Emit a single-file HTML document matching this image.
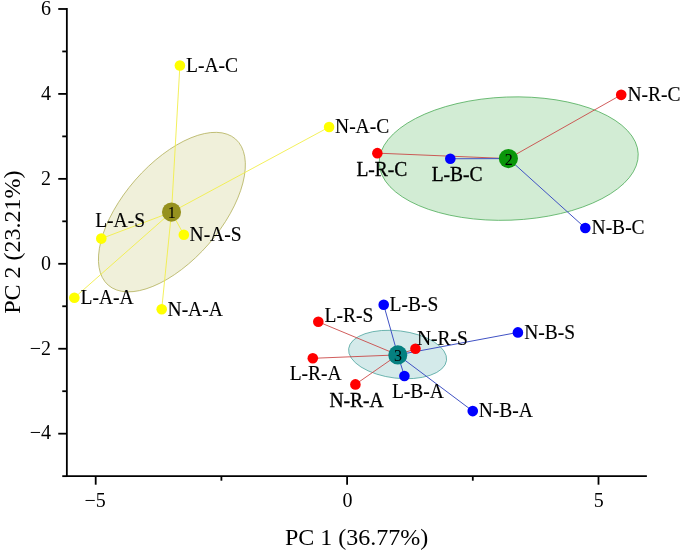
<!DOCTYPE html>
<html><head><meta charset="utf-8"><title>PCA</title>
<style>
html,body{margin:0;padding:0;background:#fff;}
body{width:685px;height:552px;overflow:hidden;}
svg{display:block;}
text{font-family:"Liberation Serif","Times New Roman",serif;fill:#000;}
.pl{font-size:20px;}
.tk{font-size:20px;}
.ax{font-size:24px;}
.cn{font-size:16px;fill:#000;}
</style></head><body>
<svg width="685" height="552" viewBox="0 0 685 552">
<rect width="685" height="552" fill="#fff"/>
<ellipse cx="171.9" cy="212.1" rx="96.9" ry="48.7" transform="rotate(-48.95 171.9 212.1)" fill="#f0f0da" stroke="#aeab50" stroke-width="0.7"/>
<ellipse cx="508.7" cy="158.6" rx="129.6" ry="61.6" transform="rotate(-2.15 508.7 158.6)" fill="#d2ecd4" stroke="#45a850" stroke-width="0.75"/>
<ellipse cx="397.6" cy="354.5" rx="49.3" ry="23.7" transform="rotate(6.82 397.6 354.5)" fill="#d4eaea" stroke="#4aa39c" stroke-width="0.75"/>
<line x1="179.9" y1="65.5" x2="171.5" y2="212.1" stroke="#f2ee4a" stroke-width="0.9"/>
<line x1="329.1" y1="127.05" x2="171.5" y2="212.1" stroke="#f2ee4a" stroke-width="0.9"/>
<line x1="101.3" y1="238.6" x2="171.5" y2="212.1" stroke="#f2ee4a" stroke-width="0.9"/>
<line x1="183.85" y1="234.75" x2="171.5" y2="212.1" stroke="#f2ee4a" stroke-width="0.9"/>
<line x1="74.35" y1="297.75" x2="171.5" y2="212.1" stroke="#f2ee4a" stroke-width="0.9"/>
<line x1="161.7" y1="309.3" x2="171.5" y2="212.1" stroke="#f2ee4a" stroke-width="0.9"/>
<line x1="377.35" y1="153.15" x2="508.4" y2="158.6" stroke="#c9403e" stroke-width="0.85"/>
<line x1="621.2" y1="94.85" x2="508.4" y2="158.6" stroke="#c9403e" stroke-width="0.85"/>
<line x1="450.3" y1="158.75" x2="508.4" y2="158.6" stroke="#4052c4" stroke-width="1"/>
<line x1="585.3" y1="228.0" x2="508.4" y2="158.6" stroke="#4052c4" stroke-width="1"/>
<line x1="318.3" y1="321.8" x2="397.8" y2="354.9" stroke="#c9403e" stroke-width="0.85"/>
<line x1="312.8" y1="358.3" x2="397.8" y2="354.9" stroke="#c9403e" stroke-width="0.85"/>
<line x1="355.4" y1="384.4" x2="397.8" y2="354.9" stroke="#c9403e" stroke-width="0.85"/>
<line x1="415.45" y1="348.8" x2="397.8" y2="354.9" stroke="#c9403e" stroke-width="0.85"/>
<line x1="383.7" y1="304.8" x2="397.8" y2="354.9" stroke="#4052c4" stroke-width="1"/>
<line x1="404.4" y1="375.95" x2="397.8" y2="354.9" stroke="#4052c4" stroke-width="1"/>
<line x1="517.9" y1="332.4" x2="397.8" y2="354.9" stroke="#4052c4" stroke-width="1"/>
<line x1="472.75" y1="411.1" x2="397.8" y2="354.9" stroke="#4052c4" stroke-width="1"/>
<g stroke="#000" stroke-width="1.8" fill="none">
<path d="M66.85 8.049999999999999V477.0"/>
<path d="M65.94999999999999 476.1H646.9"/>
<path d="M62.24999999999999 476.15H66.85"/>
<path d="M58.24999999999999 433.68H66.85"/>
<path d="M62.24999999999999 391.21H66.85"/>
<path d="M58.24999999999999 348.74H66.85"/>
<path d="M62.24999999999999 306.27H66.85"/>
<path d="M58.24999999999999 263.80H66.85"/>
<path d="M62.24999999999999 221.33H66.85"/>
<path d="M58.24999999999999 178.86H66.85"/>
<path d="M62.24999999999999 136.39H66.85"/>
<path d="M58.24999999999999 93.92H66.85"/>
<path d="M62.24999999999999 51.45H66.85"/>
<path d="M58.24999999999999 8.98H66.85"/>
<path d="M95.70 476.1V484.70000000000005"/>
<path d="M221.40 476.1V480.70000000000005"/>
<path d="M347.10 476.1V484.70000000000005"/>
<path d="M472.80 476.1V480.70000000000005"/>
<path d="M598.50 476.1V484.70000000000005"/>
</g>
<text class="tk" x="51.1" y="14.78" text-anchor="end">6</text>
<text class="tk" x="51.1" y="99.72" text-anchor="end">4</text>
<text class="tk" x="51.1" y="184.66" text-anchor="end">2</text>
<text class="tk" x="51.1" y="269.60" text-anchor="end">0</text>
<text class="tk" x="51.1" y="354.54" text-anchor="end">−2</text>
<text class="tk" x="51.1" y="439.48" text-anchor="end">−4</text>
<text class="tk" x="95.20" y="507" text-anchor="middle">−5</text>
<text class="tk" x="347.40" y="507" text-anchor="middle">0</text>
<text class="tk" x="598.80" y="507" text-anchor="middle">5</text>
<text class="ax" x="356.7" y="544.7" text-anchor="middle">PC 1 (36.77%)</text>
<text class="ax" transform="translate(19.6 242.2) rotate(-90)" text-anchor="middle">PC 2 (23.21%)</text>
<circle cx="179.9" cy="65.5" r="5.3" fill="#ffff00"/>
<circle cx="329.1" cy="127.05" r="5.3" fill="#ffff00"/>
<circle cx="101.3" cy="238.6" r="5.3" fill="#ffff00"/>
<circle cx="183.85" cy="234.75" r="5.3" fill="#ffff00"/>
<circle cx="74.35" cy="297.75" r="5.3" fill="#ffff00"/>
<circle cx="161.7" cy="309.3" r="5.3" fill="#ffff00"/>
<circle cx="377.35" cy="153.15" r="5.3" fill="#ff0000"/>
<circle cx="621.2" cy="94.85" r="5.3" fill="#ff0000"/>
<circle cx="450.3" cy="158.75" r="5.3" fill="#0000ff"/>
<circle cx="585.3" cy="228.0" r="5.3" fill="#0000ff"/>
<circle cx="318.3" cy="321.8" r="5.3" fill="#ff0000"/>
<circle cx="312.8" cy="358.3" r="5.3" fill="#ff0000"/>
<circle cx="355.4" cy="384.4" r="5.3" fill="#ff0000"/>
<circle cx="415.45" cy="348.8" r="5.3" fill="#ff0000"/>
<circle cx="383.7" cy="304.8" r="5.3" fill="#0000ff"/>
<circle cx="404.4" cy="375.95" r="5.3" fill="#0000ff"/>
<circle cx="517.9" cy="332.4" r="5.3" fill="#0000ff"/>
<circle cx="472.75" cy="411.1" r="5.3" fill="#0000ff"/>
<circle cx="171.5" cy="212.1" r="9.55" fill="#96911e"/>
<text class="cn" x="171.80" y="218.00" text-anchor="middle">1</text>
<circle cx="508.4" cy="158.6" r="9.55" fill="#0a960a"/>
<text class="cn" x="508.70" y="164.50" text-anchor="middle">2</text>
<circle cx="397.8" cy="354.9" r="9.55" fill="#058080"/>
<text class="cn" x="398.10" y="360.80" text-anchor="middle">3</text>
<text class="pl" transform="translate(186.05 72.0) scale(0.975 1)" stroke="#000" stroke-width="0.12">L-A-C</text>
<text class="pl" transform="translate(335.05 133.3) scale(0.975 1)" stroke="#000" stroke-width="0.12">N-A-C</text>
<text class="pl" transform="translate(95.15 227.0) scale(0.975 1)" stroke="#000" stroke-width="0.12">L-A-S</text>
<text class="pl" transform="translate(189.55 241.3) scale(0.975 1)" stroke="#000" stroke-width="0.12">N-A-S</text>
<text class="pl" transform="translate(80.55 304.0) scale(0.975 1)" stroke="#000" stroke-width="0.12">L-A-A</text>
<text class="pl" transform="translate(167.55 315.8) scale(0.975 1)" stroke="#000" stroke-width="0.12">N-A-A</text>
<text class="pl" transform="translate(356.45 175.7) scale(0.975 1)" stroke="#000" stroke-width="0.32">L-R-C</text>
<text class="pl" transform="translate(627.45 101.3) scale(0.975 1)" stroke="#000" stroke-width="0.12">N-R-C</text>
<text class="pl" transform="translate(431.7 181.2) scale(0.975 1)" stroke="#000" stroke-width="0.32">L-B-C</text>
<text class="pl" transform="translate(591.55 234.3) scale(0.975 1)" stroke="#000" stroke-width="0.12">N-B-C</text>
<text class="pl" transform="translate(324.55 322.3) scale(0.975 1)" stroke="#000" stroke-width="0.12">L-R-S</text>
<text class="pl" transform="translate(289.65 380.25) scale(0.975 1)" stroke="#000" stroke-width="0.12">L-R-A</text>
<text class="pl" transform="translate(329.4 407.25) scale(0.975 1)" stroke="#000" stroke-width="0.32">N-R-A</text>
<text class="pl" transform="translate(417.0 344.5) scale(0.975 1)" stroke="#000" stroke-width="0.12">N-R-S</text>
<text class="pl" transform="translate(389.55 311.45) scale(0.975 1)" stroke="#000" stroke-width="0.12">L-B-S</text>
<text class="pl" transform="translate(391.9 398.2) scale(0.975 1)" stroke="#000" stroke-width="0.12">L-B-A</text>
<text class="pl" transform="translate(524.15 339.0) scale(0.975 1)" stroke="#000" stroke-width="0.12">N-B-S</text>
<text class="pl" transform="translate(478.75 417.3) scale(0.975 1)" stroke="#000" stroke-width="0.12">N-B-A</text>
</svg>
</body></html>
